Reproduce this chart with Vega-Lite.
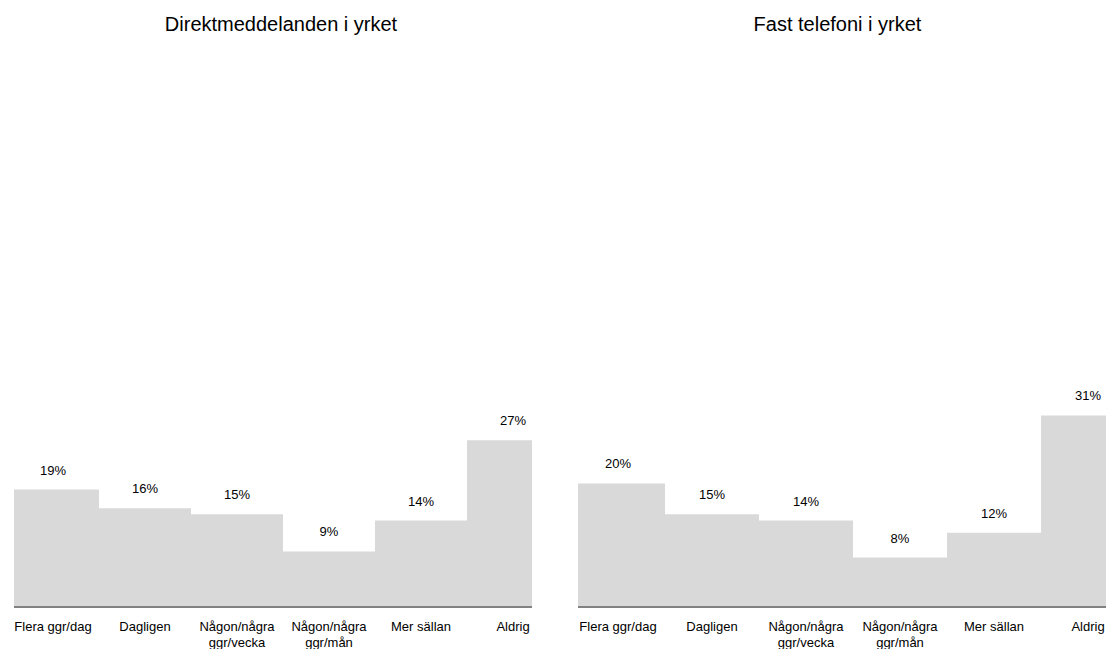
{
  "$schema": "https://vega.github.io/schema/vega-lite/v6.json",
  "autosize": {"type": "pad"},
  "padding": {"left": 13, "top": 15, "right": 0, "bottom": 0},
  "background": "white",
  "spacing": 46,
  "bounds": "flush",
  "config": {
    "view": {"stroke": null},
    "font": "Liberation Sans",
    "axis": {"labelFont": "Liberation Sans", "labelFontSize": 13, "labelColor": "#000000"}
  },
  "datasets": {
    "direkt": [
      {"kategori": "Flera ggr/dag", "andel": 0.19},
      {"kategori": "Dagligen", "andel": 0.16},
      {"kategori": "Någon/några ggr/vecka", "andel": 0.15},
      {"kategori": "Någon/några ggr/mån", "andel": 0.09},
      {"kategori": "Mer sällan", "andel": 0.14},
      {"kategori": "Aldrig", "andel": 0.27}
    ],
    "fast": [
      {"kategori": "Flera ggr/dag", "andel": 0.20},
      {"kategori": "Dagligen", "andel": 0.15},
      {"kategori": "Någon/några ggr/vecka", "andel": 0.14},
      {"kategori": "Någon/några ggr/mån", "andel": 0.08},
      {"kategori": "Mer sällan", "andel": 0.12},
      {"kategori": "Aldrig", "andel": 0.31}
    ]
  },
  "hconcat": [
    {
      "data": {"name": "direkt"},
      "width": 518,
      "height": 556,
      "title": {"text": "Direktmeddelanden i yrket", "font": "Liberation Sans", "fontSize": 20, "fontWeight": "normal", "color": "#000000", "anchor": "middle", "baseline": "alphabetic", "frame": "group", "offset": 0, "dx": 8},
      "layer": [
        {"mark": {"type": "bar", "color": "#d9d9d9", "clip": true},
          "encoding": {
            "x": {"field": "kategori", "type": "nominal", "sort": null,
              "scale": {"range": [-7, 545], "paddingInner": 0, "paddingOuter": 0},
              "axis": {"title": null, "domain": false, "ticks": false, "labelAngle": 0, "labelPadding": 13, "labelLineHeight": 16, "labelBaseline": "top",
                "labelExpr": "indexof(datum.label, 'Någon') == 0 ? split(datum.label, ' ') : datum.label"}},
            "y": {"field": "andel", "type": "quantitative", "scale": {"domain": [0, 0.9], "nice": false}, "axis": null}
          }},
        {"mark": {"type": "text", "baseline": "alphabetic", "dy": -15, "fontSize": 13, "color": "#000000"},
          "encoding": {
            "x": {"field": "kategori", "type": "nominal", "sort": null},
            "y": {"field": "andel", "type": "quantitative"},
            "text": {"field": "andel", "type": "quantitative", "format": ".0%"}}},
        {"mark": {"type": "rule", "color": "#808080", "strokeWidth": 1},
          "encoding": {"y": {"datum": 0, "type": "quantitative"}}}
      ]
    },
    {
      "data": {"name": "fast"},
      "width": 529,
      "height": 556,
      "title": {"text": "Fast telefoni i yrket", "font": "Liberation Sans", "fontSize": 20, "fontWeight": "normal", "color": "#000000", "anchor": "middle", "baseline": "alphabetic", "frame": "group", "offset": 0, "dx": -5},
      "layer": [
        {"mark": {"type": "bar", "color": "#d9d9d9", "clip": true},
          "encoding": {
            "x": {"field": "kategori", "type": "nominal", "sort": null,
              "scale": {"range": [-7, 557], "paddingInner": 0, "paddingOuter": 0},
              "axis": {"title": null, "domain": false, "ticks": false, "labelAngle": 0, "labelPadding": 13, "labelLineHeight": 16, "labelBaseline": "top",
                "labelExpr": "indexof(datum.label, 'Någon') == 0 ? split(datum.label, ' ') : datum.label"}},
            "y": {"field": "andel", "type": "quantitative", "scale": {"domain": [0, 0.9], "nice": false}, "axis": null}
          }},
        {"mark": {"type": "text", "baseline": "alphabetic", "dy": -15, "fontSize": 13, "color": "#000000"},
          "encoding": {
            "x": {"field": "kategori", "type": "nominal", "sort": null},
            "y": {"field": "andel", "type": "quantitative"},
            "text": {"field": "andel", "type": "quantitative", "format": ".0%"}}},
        {"mark": {"type": "rule", "color": "#808080", "strokeWidth": 1},
          "encoding": {"y": {"datum": 0, "type": "quantitative"}}}
      ]
    }
  ]
}
